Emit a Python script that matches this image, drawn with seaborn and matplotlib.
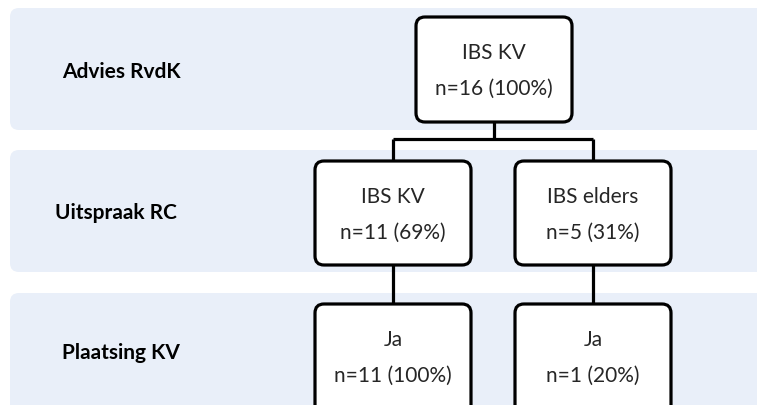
import matplotlib
matplotlib.use("Agg")
import matplotlib.pyplot as plt
import seaborn as sns
from matplotlib.patches import FancyBboxPatch

# Rijen (niveaus) van het stroomschema
NIVEAUS = ["Advies RvdK", "Uitspraak RC", "Plaatsing KV"]

# Knopen per niveau
LABELS_1 = ["IBS KV"]
N_1 = [16]
PCT_1 = [100]

LABELS_2 = ["IBS KV", "IBS elders"]
N_2 = [11, 5]
PCT_2 = [69, 31]

LABELS_3 = ["Ja", "Ja"]
N_3 = [11, 1]
PCT_3 = [100, 20]

sns.set_theme(style="white")
plt.rcParams["font.family"] = ["Lato", "DejaVu Sans"]

BAND_KLEUR = "#E9EFF9"
W, H = 757, 405
FS = 15

fig = plt.figure(figsize=(W / 100, H / 100), dpi=100)
ax = fig.add_axes([0, 0, 1, 1])
ax.set_xlim(0, W)
ax.set_ylim(H, 0)
ax.axis("off")

# banden (top, bottom) in pixels + y van het label
banden = [(8, 130), (150, 272), (293, 430)]
label_pos = [(62, 72), (55, 213), (62, 353)]
for (top, bot), naam, (lx, ly) in zip(banden, NIVEAUS, label_pos):
    ax.add_patch(FancyBboxPatch((10, top), W + 30, bot - top,
                                boxstyle="round,pad=0,rounding_size=9",
                                facecolor=BAND_KLEUR, edgecolor="none", zorder=0))
    ax.text(lx, ly, naam, fontsize=FS, fontweight="bold", ha="left",
            va="center", color="black")


def knoop(cx, top, bot, label, n, pct):
    w = 156
    ax.add_patch(FancyBboxPatch((cx - w / 2, top), w, bot - top,
                                boxstyle="round,pad=0,rounding_size=9",
                                facecolor="white", edgecolor="black",
                                linewidth=2.3, zorder=3))
    ax.text(cx, top + 36, label, fontsize=FS, ha="center", va="center", zorder=4)
    ax.text(cx, top + 72, f"n={n} ({pct}%)", fontsize=FS, ha="center",
            va="center", zorder=4)


lijn = dict(color="black", linewidth=2.3, zorder=2, solid_capstyle="butt")

# niveau 1
x1 = [494]
for cx, lab, n, p in zip(x1, LABELS_1, N_1, PCT_1):
    knoop(cx, 17, 122, lab, n, p)

# niveau 2
x2 = [393, 593]
for cx, lab, n, p in zip(x2, LABELS_2, N_2, PCT_2):
    knoop(cx, 161, 265, lab, n, p)

# niveau 3
x3 = [393, 593]
for cx, lab, n, p in zip(x3, LABELS_3, N_3, PCT_3):
    knoop(cx, 304, 420, lab, n, p)

# verbindingen
ax.plot([x1[0], x1[0]], [122, 139], **lijn)
ax.plot([x2[0], x2[1]], [139, 139], **lijn)
for cx in x2:
    ax.plot([cx, cx], [139, 161], **lijn)
    ax.plot([cx, cx], [265, 304], **lijn)

fig.savefig("out.png", dpi=100)
plt.close(fig)
